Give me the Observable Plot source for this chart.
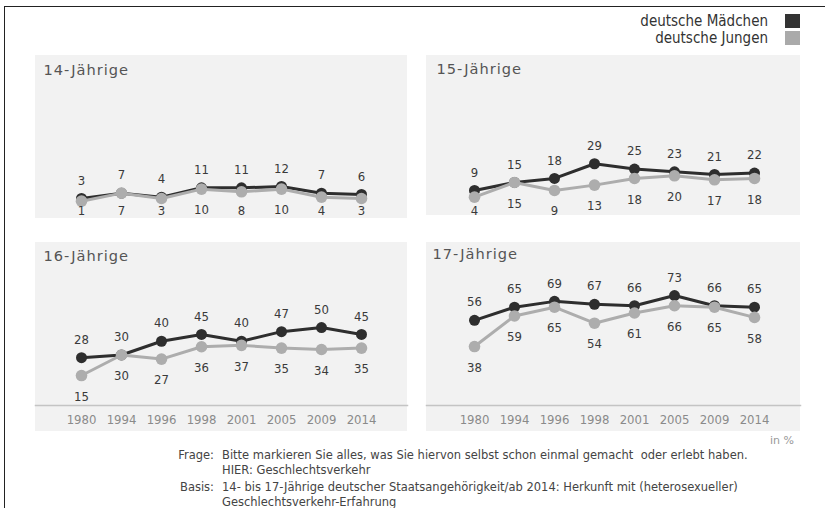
<!DOCTYPE html>
<html><head><meta charset="utf-8">
<script src="https://cdn.jsdelivr.net/npm/d3@7"></script>
<script src="https://cdn.jsdelivr.net/npm/@observablehq/plot@0.6"></script>
<style>
body{margin:0;background:#fff;}
#wrap{position:relative;width:825px;height:508px;overflow:hidden;font-family:"DejaVu Sans Condensed","DejaVu Sans",sans-serif;}
#border{position:absolute;left:4px;top:6px;width:840px;height:520px;border-top:1.5px solid #222;border-left:1.5px solid #222;}
.panel{position:absolute;}
.legrow{position:absolute;right:25px;display:flex;align-items:center;gap:17px;font-size:15px;color:#333;height:17px;}
.sw{width:15px;height:14px;}
.foot{position:absolute;font-family:"DejaVu Sans",sans-serif;font-size:11.5px;color:#444;line-height:15px;white-space:nowrap;}
g[font-size="14.6"] text{letter-spacing:1px;}
</style></head><body>
<div id="wrap">
  <div id="border"></div>
  <div class="legrow" style="top:12.5px"><span>deutsche Mädchen</span><div class="sw" style="background:#333"></div></div>
  <div class="legrow" style="top:29.5px"><span>deutsche Jungen</span><div class="sw" style="background:#aaa"></div></div>
  <div id="p14" class="panel"></div>
  <div id="p15" class="panel"></div>
  <div id="p16" class="panel"></div>
  <div id="p17" class="panel"></div>
  <div class="foot" style="left:770px;top:432.5px;color:#999;font-size:11px">in %</div>
  <div class="foot" style="left:150px;width:64px;text-align:right;top:447.5px">Frage:</div>
  <div class="foot" style="left:222px;top:447.5px">Bitte markieren Sie alles, was Sie hiervon selbst schon einmal gemacht&nbsp; oder erlebt haben.</div>
  <div class="foot" style="left:222px;top:462.5px">HIER: Geschlechtsverkehr</div>
  <div class="foot" style="left:150px;width:64px;text-align:right;top:479.5px">Basis:</div>
  <div class="foot" style="left:222px;top:479.5px">14- bis 17-Jährige deutscher Staatsangehörigkeit/ab 2014: Herkunft mit (heterosexueller)</div>
  <div class="foot" style="left:222px;top:494.5px">Geschlechtsverkehr-Erfahrung</div>
</div>
<script>
const years = ["1980","1994","1996","1998","2001","2005","2009","2014"];
const girls14 = [3,7,4,11,11,12,7,6];
const boys14  = [1,7,3,10,8,10,4,3];
const girls15 = [9,15,18,29,25,23,21,22];
const boys15  = [4,15,9,13,18,20,17,18];
const girls16 = [28,30,40,45,40,47,50,45];
const boys16  = [15,30,27,36,37,35,34,35];
const girls17 = [56,65,69,67,66,73,66,65];
const boys17  = [38,59,65,54,61,66,65,58];
const panelTitles = ["14-Jährige","15-Jährige","16-Jährige","17-Jährige"];

const dark = "#2e2e2e", light = "#adadad";

function panel(id, cfg) {
  const {title, girls, boys, left, top, width, height, x0, x1, a, b, axis, tdx, tdy} = cfg;
  const el = document.getElementById(id);
  el.style.left = left + "px"; el.style.top = top + "px";
  const rows = years.map((yr, i) => ({year: yr, g: girls[i], j: boys[i]}));
  const vClamp = axis ? -Infinity : (a - 210) / b;
  const txt = {fontSize: 13, fill: "#3a3a3a", fontFamily: '"DejaVu Sans Condensed","DejaVu Sans",sans-serif'};
  const chart = Plot.plot({
    width, height,
    marginTop: 0, marginLeft: 0, marginRight: 0, marginBottom: axis ? height - 163 : 0,
    x: {type: "point", domain: years, range: [x0 - left, x1 - left], axis: axis ? undefined : null},
    y: {domain: [0, 100], range: [a - top, a - top - 100 * b], axis: null},
    style: {background: "#f2f2f2", overflow: "visible", color: "#8a8a8a", fontFamily: '"DejaVu Sans Condensed","DejaVu Sans",sans-serif'},
    marks: [
      axis ? Plot.frame({anchor: "bottom", stroke: "#c4c4c4", strokeWidth: 1.5}) : null,
      axis ? Plot.axisX({tickSize: 0, tickPadding: 9, fontSize: 13, fill: "#8a8a8a", label: null}) : null,
      Plot.text([title], {frameAnchor: "top-left", dx: tdx, dy: tdy, fontSize: 14.6, fill: "#555", fontFamily: '"DejaVu Sans",sans-serif'}),
      Plot.line(rows, {x: "year", y: "g", stroke: dark, strokeWidth: 3}),
      Plot.dot(rows, {x: "year", y: "g", r: 5.5, fill: dark}),
      Plot.line(rows, {x: "year", y: "j", stroke: light, strokeWidth: 3}),
      Plot.dot(rows, {x: "year", y: "j", r: 5.8, fill: light}),
      Plot.text(rows, {x: "year", y: "g", text: d => String(d.g), dy: -18, ...txt}),
      Plot.text(rows, {x: "year", y: d => Math.max(d.j - 21 / b, vClamp), text: d => String(d.j), ...txt})
    ]
  });
  el.appendChild(chart);
}

panel("p14", {title: panelTitles[0], girls: girls14, boys: boys14, left: 35, top: 55, width: 372, height: 163, x0: 58, x1: 383, a: 202, b: 1.336, axis: false, tdx: 8, tdy: 9});
panel("p15", {title: panelTitles[1], girls: girls15, boys: boys15, left: 426, top: 55, width: 374, height: 160, x0: 450, x1: 777, a: 202, b: 1.336, axis: false, tdx: 10, tdy: 8});
panel("p16", {title: panelTitles[2], girls: girls16, boys: boys16, left: 35, top: 242, width: 372, height: 189, x0: 58, x1: 383, a: 395.6, b: 1.371, axis: true, tdx: 8, tdy: 8});
panel("p17", {title: panelTitles[3], girls: girls17, boys: boys17, left: 426, top: 242, width: 374, height: 189, x0: 450, x1: 777, a: 401.4, b: 1.457, axis: true, tdx: 6, tdy: 6});
</script>
</body></html>
